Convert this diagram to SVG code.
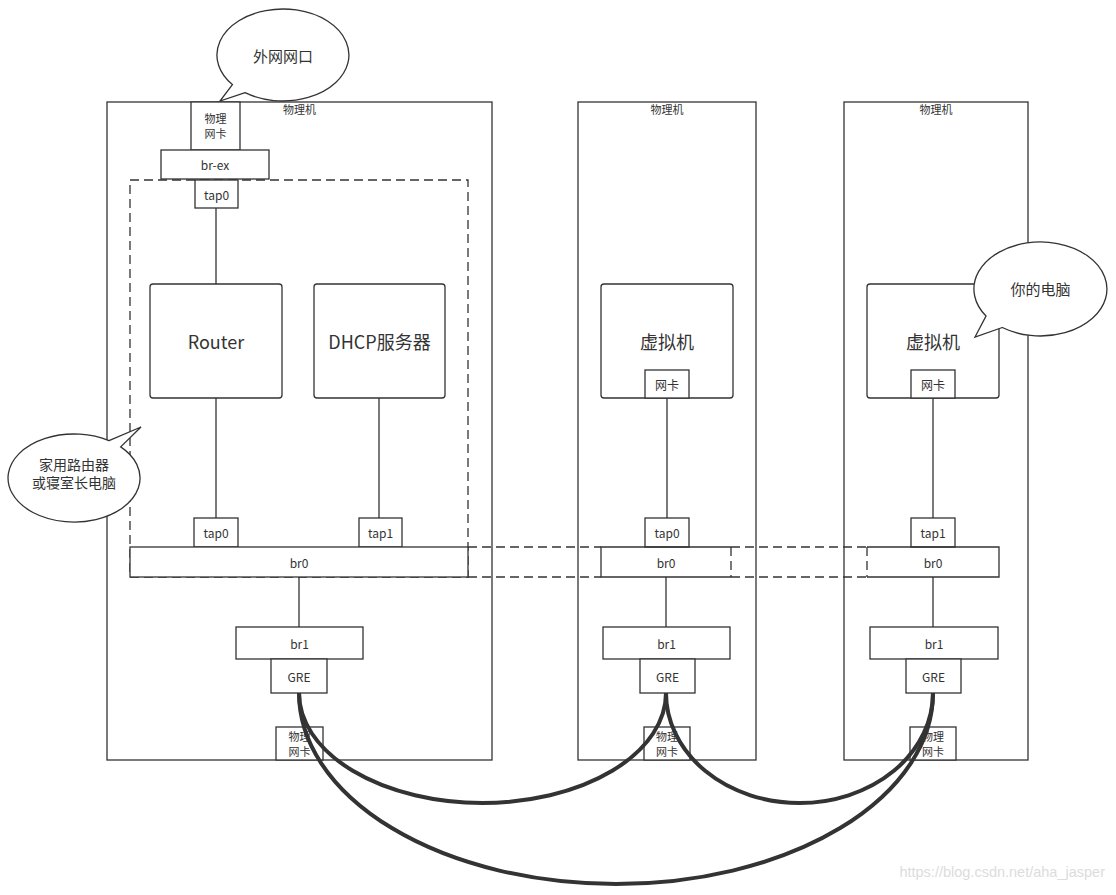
<svg xmlns="http://www.w3.org/2000/svg" width="1116" height="895" viewBox="0 0 1116 895">
<style>
.b{fill:#fff;stroke:#333;stroke-width:1.3}
.n{fill:none;stroke:#333;stroke-width:1.3}
.d{fill:none;stroke:#333;stroke-width:1.3;stroke-dasharray:9 5}
.w{stroke:#333;stroke-width:1.3}
.t{font-family:"Noto Sans CJK SC","Noto Sans",sans-serif;fill:#333;text-anchor:middle;dominant-baseline:central}
.s{font-size:12px}
.x{font-size:11px}
.l{font-size:18px}
.m{font-size:15px}
.g{fill:none;stroke:#333;stroke-width:4}
</style>
<rect width="1116" height="895" fill="#fff"/>

<g id="pm1">
<rect class="b" x="107" y="102" width="385" height="658"/>
<text class="t x" x="299.5" y="109">物理机</text>
</g>
<g id="pm2">
<rect class="b" x="578" y="102" width="178" height="658"/>
<text class="t x" x="667" y="109">物理机</text>
</g>
<g id="pm3">
<rect class="b" x="844" y="102" width="184" height="658"/>
<text class="t x" x="936" y="109">物理机</text>
</g>

<g id="router-ns">
<rect class="d" x="130" y="180" width="338" height="397"/>
</g>

<g id="connectors">
<line class="w" x1="216" y1="208" x2="216" y2="284"/>
<line class="w" x1="216" y1="398" x2="216" y2="518"/>
<line class="w" x1="379" y1="398" x2="379" y2="518"/>
<line class="w" x1="299" y1="577" x2="299" y2="627"/>
<line class="w" x1="667" y1="398" x2="667" y2="518"/>
<line class="w" x1="666" y1="577" x2="666" y2="627"/>
<line class="w" x1="933" y1="398" x2="933" y2="518"/>
<line class="w" x1="933" y1="577" x2="933" y2="627"/>
<path class="d" d="M468,547 H601 M468,577 H601 M731,547 H867 M731,577 H867"/>
</g>

<g id="nic-ext">
<rect class="b" x="191" y="102" width="49" height="48"/>
<text class="t x" x="215.5" y="118">物理</text>
<text class="t x" x="215.5" y="133">网卡</text>
</g>
<g id="br-ex">
<rect class="b" x="161" y="150" width="108" height="29"/>
<text class="t s" x="215" y="164.5">br-ex</text>
</g>
<g id="tap0-top">
<rect class="b" x="195" y="180" width="43" height="28"/>
<text class="t s" x="216.5" y="194">tap0</text>
</g>
<g id="router">
<rect class="b" x="150" y="284" width="132" height="114" rx="3"/>
<text class="t l" x="216" y="341">Router</text>
</g>
<g id="dhcp">
<rect class="b" x="314" y="284" width="131" height="114" rx="3"/>
<text class="t l" x="379.5" y="341">DHCP服务器</text>
</g>
<g id="tap0-1">
<rect class="b" x="194" y="518" width="44" height="29"/>
<text class="t s" x="216" y="532.5">tap0</text>
</g>
<g id="tap1-1">
<rect class="b" x="359" y="518" width="43" height="29"/>
<text class="t s" x="380.5" y="532.5">tap1</text>
</g>
<g id="br0-1">
<rect class="b" x="130" y="547" width="338" height="30"/>
<text class="t s" x="299" y="562">br0</text>
</g>
<g id="br1-1">
<rect class="b" x="236" y="627" width="127" height="32"/>
<text class="t s" x="299.5" y="643">br1</text>
</g>
<g id="gre-1">
<rect class="b" x="271" y="659" width="56" height="34"/>
<text class="t s" x="299" y="676">GRE</text>
</g>
<g id="nic-1">
<rect class="b" x="276" y="727" width="47" height="33"/>
<text class="t x" x="299.5" y="736">物理</text>
<text class="t x" x="299.5" y="751">网卡</text>
</g>

<g id="vm-2">
<rect class="b" x="601" y="284" width="132" height="114" rx="3"/>
<text class="t l" x="667" y="341">虚拟机</text>
</g>
<g id="vnic-2">
<rect class="b" x="645" y="370" width="44" height="28"/>
<text class="t s" x="667" y="384">网卡</text>
</g>
<g id="tap0-2">
<rect class="b" x="645" y="518" width="44" height="29"/>
<text class="t s" x="667" y="532.5">tap0</text>
</g>
<g id="br0-2">
<path class="n" d="M731,547 H601 V577 H731"/>
<line class="d" x1="731" y1="547" x2="731" y2="577"/>
<text class="t s" x="666" y="562">br0</text>
</g>
<g id="br1-2">
<rect class="b" x="603" y="627" width="127" height="32"/>
<text class="t s" x="666.5" y="643">br1</text>
</g>
<g id="gre-2">
<rect class="b" x="640" y="659" width="55" height="34"/>
<text class="t s" x="667.5" y="676">GRE</text>
</g>
<g id="nic-2">
<rect class="b" x="644" y="727" width="46" height="33"/>
<text class="t x" x="667" y="736">物理</text>
<text class="t x" x="667" y="751">网卡</text>
</g>

<g id="vm-3">
<rect class="b" x="867" y="284" width="132" height="114" rx="3"/>
<text class="t l" x="933" y="341">虚拟机</text>
</g>
<g id="vnic-3">
<rect class="b" x="911" y="370" width="44" height="28"/>
<text class="t s" x="933" y="384">网卡</text>
</g>
<g id="tap1-3">
<rect class="b" x="911" y="518" width="44" height="29"/>
<text class="t s" x="933" y="532.5">tap1</text>
</g>
<g id="br0-3">
<path class="n" d="M867,547 H999 V577 H867"/>
<line class="d" x1="867" y1="547" x2="867" y2="577"/>
<text class="t s" x="933" y="562">br0</text>
</g>
<g id="br1-3">
<rect class="b" x="870" y="627" width="128" height="32"/>
<text class="t s" x="934" y="643">br1</text>
</g>
<g id="gre-3">
<rect class="b" x="906" y="659" width="55" height="34"/>
<text class="t s" x="933.5" y="676">GRE</text>
</g>
<g id="nic-3">
<rect class="b" x="910" y="727" width="46" height="33"/>
<text class="t x" x="933" y="736">物理</text>
<text class="t x" x="933" y="751">网卡</text>
</g>

<g id="gre-tunnels">
<path class="g" d="M299,693 A183.5,110 0 0,0 666,693"/>
<path class="g" d="M299,693 A317,191 0 0,0 933,693"/>
<path class="g" d="M666,693 A133.5,110 0 0,0 933,693"/>
</g>

<g id="callout-wan">
<path class="b" d="M245.1,92.7 L220,101 L232.4,84.6 A66,46 0 1,1 245.1,92.7 Z"/>
<text class="t m" x="283" y="55">外网网口</text>
</g>
<g id="callout-router">
<path class="b" d="M109,440.7 L141,427 L120.7,446.9 A66,44 0 1,1 109,440.7 Z"/>
<text class="t" style="font-size:14px" x="74" y="464">家用路由器</text>
<text class="t" style="font-size:14px" x="74" y="482">或寝室长电脑</text>
</g>
<g id="callout-pc">
<path class="b" d="M1002.3,327.5 L975,337 L986,316 A66.5,47 0 1,1 1002.3,327.5 Z"/>
<text class="t m" x="1040.5" y="288">你的电脑</text>
</g>

<text x="1105" y="877" style="font-family:'Liberation Sans',Arial,sans-serif;font-size:14.5px;fill:#dcdcdc;text-anchor:end">https://blog.csdn.net/aha_jasper</text>
</svg>
